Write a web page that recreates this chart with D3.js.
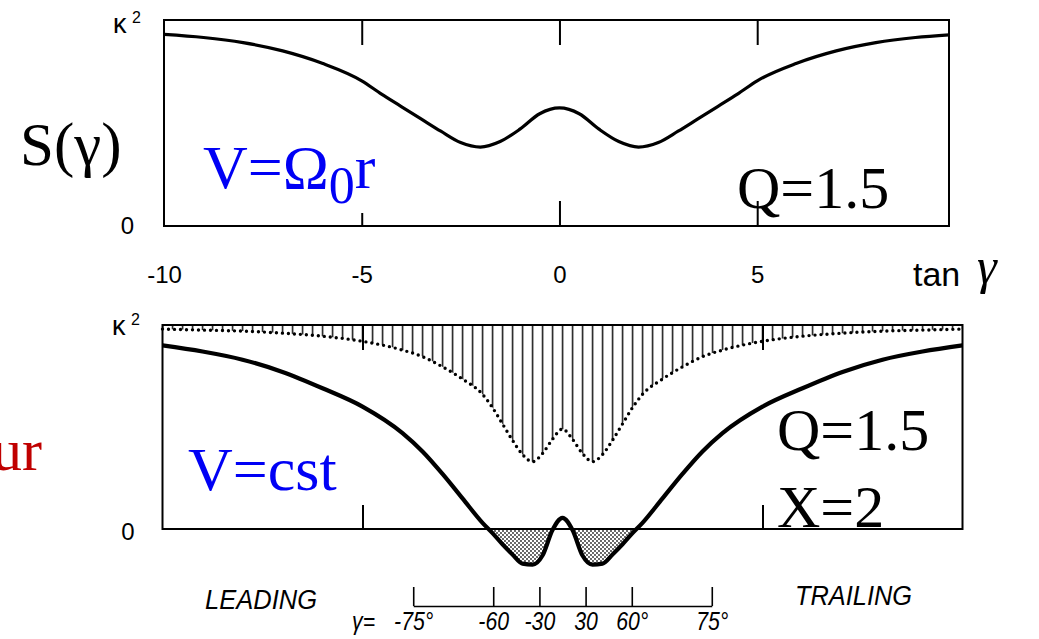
<!DOCTYPE html>
<html>
<head>
<meta charset="utf-8">
<script src="https://cdn.jsdelivr.net/npm/d3@7"></script>
<style>
  body { margin: 0; background: #fff; }
  svg { display: block; }
</style>
</head>
<body>
<main></main>
<script>
// upper panel : V = Omega0 r, kappa^2 vs tan(gamma)
const topTan = [-10, -9, -8, -7, -6, -5, -4.5, -4, -3.5, -3, -2.5, -2, -1.5, -1, -0.5, 0, 0.5, 1, 1.5, 2, 2.5, 3, 3.5, 4, 4.5, 5, 6, 7, 8, 9, 10]
const topKappa = [0.93, 0.915, 0.89, 0.85, 0.79, 0.705, 0.64, 0.58, 0.52, 0.46, 0.405, 0.383, 0.41, 0.47, 0.545, 0.573, 0.545, 0.47, 0.41, 0.383, 0.405, 0.46, 0.52, 0.58, 0.64, 0.705, 0.79, 0.85, 0.89, 0.915, 0.93]

// lower panel : V = cst, solid curve and the dotted (upper) curve
const botTan = [-10, -9, -8, -7, -6, -5, -4, -3.5, -3, -2.5, -2, -1.75, -1.5, -1.25, -1, -0.75, -0.5, -0.25, 0, 0.25, 0.5, 0.75, 1, 1.25, 1.5, 1.75, 2, 2.5, 3, 3.5, 4, 5, 6, 7, 8, 9, 10]
const botKappa = [0.9, 0.87, 0.83, 0.77, 0.69, 0.6, 0.47, 0.38, 0.27, 0.15, 0.03, -0.02, -0.075, -0.125, -0.17, -0.175, -0.13, -0.005, 0.055, -0.005, -0.13, -0.175, -0.17, -0.125, -0.075, -0.02, 0.03, 0.15, 0.27, 0.38, 0.47, 0.6, 0.69, 0.77, 0.83, 0.87, 0.9]
const botDotted = [0.98, 0.975, 0.97, 0.96, 0.945, 0.92, 0.877, 0.845, 0.795, 0.735, 0.66, 0.595, 0.515, 0.435, 0.365, 0.33, 0.37, 0.44, 0.49, 0.44, 0.37, 0.33, 0.365, 0.435, 0.515, 0.595, 0.66, 0.735, 0.795, 0.845, 0.877, 0.92, 0.945, 0.96, 0.97, 0.975, 0.98]

// ticks
const topTicks = [-10, -5, 0, 5]
const botTicks = [-5, 5]
const gammaTicks = [-75, -60, -30, 30, 60, 75]
const gammaLabels = ["-75°", "-60", "-30", "30", "60°", "75°"]

const w = 1039
const h = 639
const sans = "'Liberation Sans', Arial, sans-serif"
const serif = "'Liberation Serif', 'Times New Roman', serif"

const svg = d3.select("main").append("svg").attr("width", w).attr("height", h)
const defs = svg.append("defs")

const xTop = d3.scaleLinear().domain([-10, 9.85]).range([164, 949])
const yTop = d3.scaleLinear().domain([0, 1]).range([226, 20])
const xBot = d3.scaleLinear().domain([-10, 10]).range([162.5, 962.5])
const yBot = d3.scaleLinear().domain([0, 1]).range([529, 325])

const tanDeg = (d) => Math.tan((d * Math.PI) / 180)

// squeeze a text horizontally (the original lettering is narrow)
const narrow = (sel, k) =>
  sel.each(function () {
    const l = this.getComputedTextLength()
    d3.select(this).attr("textLength", l * k).attr("lengthAdjust", "spacingAndGlyphs")
  })

// clip paths
defs.append("clipPath").attr("id", "clipTop")
  .append("rect")
  .attr("x", xTop(-10)).attr("y", yTop(1))
  .attr("width", xTop(9.85) - xTop(-10)).attr("height", yTop(0) - yTop(1))
defs.append("clipPath").attr("id", "clipNeg")
  .append("rect")
  .attr("x", xBot(-10)).attr("y", yBot(0))
  .attr("width", xBot(10) - xBot(-10)).attr("height", h - yBot(0))

// hatching : vertical lines every 0.25 in tan(gamma)
const step = xBot(0.25) - xBot(0)
const hatch = defs.append("pattern")
  .attr("id", "hatch")
  .attr("patternUnits", "userSpaceOnUse")
  .attr("x", xBot(0) - 0.75)
  .attr("y", 0)
  .attr("width", step)
  .attr("height", h)
hatch.append("rect").attr("width", 1.5).attr("height", h).attr("fill", "#111")

// stipple for the negative part
const stip = defs.append("pattern")
  .attr("id", "stipple")
  .attr("patternUnits", "userSpaceOnUse")
  .attr("width", 4)
  .attr("height", 4)
stip.append("rect").attr("width", 4).attr("height", 4).attr("fill", "#fff")
stip.append("circle").attr("cx", 1).attr("cy", 1).attr("r", 0.9).attr("fill", "#222")
stip.append("circle").attr("cx", 3).attr("cy", 3).attr("r", 0.9).attr("fill", "#222")

// ---------- upper panel ----------
const topLine = d3.line()
  .x((d, i) => xTop(topTan[i]))
  .y((d) => yTop(d))
  .curve(d3.curveMonotoneX)

svg.append("path")
  .datum(topKappa)
  .attr("clip-path", "url(#clipTop)")
  .attr("d", topLine)
  .attr("fill", "none")
  .attr("stroke", "#000")
  .attr("stroke-width", 3.2)

svg.append("rect")
  .attr("x", xTop(-10)).attr("y", yTop(1))
  .attr("width", xTop(9.85) - xTop(-10)).attr("height", yTop(0) - yTop(1))
  .attr("fill", "none").attr("stroke", "#000").attr("stroke-width", 2)

const fmt = (d) => (d < 0 ? "-" + Math.abs(d) : String(d))

const topAxisB = svg.append("g")
  .attr("transform", `translate(0,${yTop(0)})`)
  .call(d3.axisBottom(xTop).tickValues(topTicks).tickSize(-25).tickPadding(40).tickFormat(fmt))
topAxisB.select(".domain").remove()
topAxisB.attr("font-size", 24).attr("font-family", sans)
topAxisB.selectAll("line").attr("stroke", "#000").attr("stroke-width", 2)
topAxisB.selectAll(".tick").filter((d) => d === -5).select("line").attr("y2", -13)
topAxisB.selectAll(".tick").filter((d) => d === -10).select("line").remove()

const topAxisT = svg.append("g")
  .attr("transform", `translate(0,${yTop(1)})`)
  .call(d3.axisTop(xTop).tickValues(topTicks.filter((d) => d > -10)).tickSize(-25).tickFormat(""))
topAxisT.select(".domain").remove()
topAxisT.selectAll("line").attr("stroke", "#000").attr("stroke-width", 2)

const topAxisL = svg.append("g")
  .attr("transform", `translate(${xTop(-10)},0)`)
  .call(d3.axisLeft(yTop).tickValues([0]).tickSize(0).tickPadding(30).tickFormat(fmt))
topAxisL.select(".domain").remove()
topAxisL.attr("font-size", 24).attr("font-family", sans)

// kappa^2 labels
const kappaLabel = (x, y) => {
  svg.append("text").attr("x", x).attr("y", y)
    .attr("font-family", sans).attr("font-size", 27).text("κ")
  svg.append("text").attr("x", x + 19).attr("y", y - 10)
    .attr("font-family", sans).attr("font-size", 16).text("2")
}
kappaLabel(113, 33)

svg.append("text").attr("x", 913).attr("y", 286)
  .attr("font-family", sans).attr("font-size", 34).text("tan")
svg.append("text").attr("x", 977).attr("y", 283)
  .attr("font-family", serif).attr("font-style", "italic").attr("font-size", 50).text("γ")

// ---------- lower panel ----------
const dotArea = d3.area()
  .x((d, i) => xBot(botTan[i]))
  .y0(yBot(1))
  .y1((d) => yBot(d))
  .curve(d3.curveMonotoneX)

svg.append("path")
  .datum(botDotted)
  .attr("d", dotArea)
  .attr("fill", "url(#hatch)")

const dotLine = d3.line()
  .x((d, i) => xBot(botTan[i]))
  .y((d) => yBot(d))
  .curve(d3.curveMonotoneX)

svg.append("path")
  .datum(botDotted)
  .attr("d", dotLine)
  .attr("fill", "none")
  .attr("stroke", "#000")
  .attr("stroke-width", 3.4)
  .attr("stroke-linecap", "round")
  .attr("stroke-dasharray", "0 6")

const negArea = d3.area()
  .x((d, i) => xBot(botTan[i]))
  .y0(yBot(0))
  .y1((d) => yBot(d))
  .curve(d3.curveMonotoneX)

svg.append("path")
  .datum(botKappa)
  .attr("clip-path", "url(#clipNeg)")
  .attr("d", negArea)
  .attr("fill", "url(#stipple)")

svg.append("path")
  .datum(botKappa)
  .attr("d", dotLine)
  .attr("fill", "none")
  .attr("stroke", "#000")
  .attr("stroke-width", 4.2)

svg.append("rect")
  .attr("x", xBot(-10)).attr("y", yBot(1))
  .attr("width", xBot(10) - xBot(-10)).attr("height", yBot(0) - yBot(1))
  .attr("fill", "none").attr("stroke", "#000").attr("stroke-width", 2)

const botAxisB = svg.append("g")
  .attr("transform", `translate(0,${yBot(0)})`)
  .call(d3.axisBottom(xBot).tickValues(botTicks).tickSize(-24).tickFormat(""))
botAxisB.select(".domain").remove()
botAxisB.selectAll("line").attr("stroke", "#000").attr("stroke-width", 2)

const botAxisT = svg.append("g")
  .attr("transform", `translate(0,${yBot(1)})`)
  .call(d3.axisTop(xBot).tickValues(botTicks).tickSize(-25).tickFormat(""))
botAxisT.select(".domain").remove()
botAxisT.selectAll("line").attr("stroke", "#000").attr("stroke-width", 2)

const botAxisL = svg.append("g")
  .attr("transform", `translate(${xBot(-10)},0)`)
  .call(d3.axisLeft(yBot).tickValues([0]).tickSize(0).tickPadding(28).tickFormat(fmt))
botAxisL.select(".domain").remove()
botAxisL.attr("font-size", 24).attr("font-family", sans)
botAxisL.selectAll("text").attr("dy", "0.45em")

kappaLabel(112, 335)

// gamma axis under the lower panel
const gScale = d3.scaleLinear()
  .domain([tanDeg(-75), tanDeg(75)])
  .range([xBot(tanDeg(-75)), xBot(tanDeg(75))])

const gAxis = svg.append("g")
  .attr("transform", "translate(0,606)")
  .call(
    d3.axisBottom(gScale)
      .tickValues(gammaTicks.map(tanDeg))
      .tickSize(-19)
      .tickSizeOuter(0)
      .tickPadding(6)
      .tickFormat((d, i) => gammaLabels[i])
  )
gAxis.attr("font-size", 25).attr("font-family", sans).attr("font-style", "italic")
gAxis.select(".domain").attr("stroke", "#000").attr("stroke-width", 1.6)
gAxis.selectAll("line").attr("stroke", "#000").attr("stroke-width", 1.6)
narrow(gAxis.selectAll("text"), 0.85)

narrow(
  svg.append("text").attr("x", 352).attr("y", 630)
    .attr("font-family", sans).attr("font-style", "italic").attr("font-size", 25).text("γ="),
  0.85
)

svg.append("text").attr("x", 205).attr("y", 609)
  .attr("font-family", sans).attr("font-style", "italic").attr("font-size", 27)
  .attr("textLength", 112).attr("lengthAdjust", "spacingAndGlyphs").text("LEADING")
svg.append("text").attr("x", 795).attr("y", 605)
  .attr("font-family", sans).attr("font-style", "italic").attr("font-size", 27)
  .attr("textLength", 117).attr("lengthAdjust", "spacingAndGlyphs").text("TRAILING")

// ---------- annotations ----------
svg.append("text").attr("x", 20).attr("y", 165)
  .attr("font-family", serif).attr("font-size", 61).attr("fill", "#000").text("S(γ)")

const vt = svg.append("text").attr("x", 203).attr("y", 188)
  .attr("font-family", serif).attr("font-size", 62).attr("fill", "#0000f5")
vt.append("tspan").text("V=Ω")
vt.append("tspan").attr("dy", 15).attr("font-size", 52).text("0")
vt.append("tspan").attr("dy", -15).text("r")

svg.append("text").attr("x", 737).attr("y", 208)
  .attr("font-family", serif).attr("font-size", 60).attr("fill", "#000").text("Q=1.5")

svg.append("text").attr("x", 188).attr("y", 490)
  .attr("font-family", serif).attr("font-size", 62).attr("fill", "#0000f5").text("V=cst")

svg.append("text").attr("x", 777).attr("y", 450)
  .attr("font-family", serif).attr("font-size", 60).attr("fill", "#000").text("Q=1.5")
svg.append("text").attr("x", 777).attr("y", 527)
  .attr("font-family", serif).attr("font-size", 60).attr("fill", "#000").text("X=2")

svg.append("text").attr("x", 42).attr("y", 470).attr("text-anchor", "end")
  .attr("font-family", serif).attr("font-size", 60).attr("fill", "#c00000").text("ur")
</script>
</body>
</html>
